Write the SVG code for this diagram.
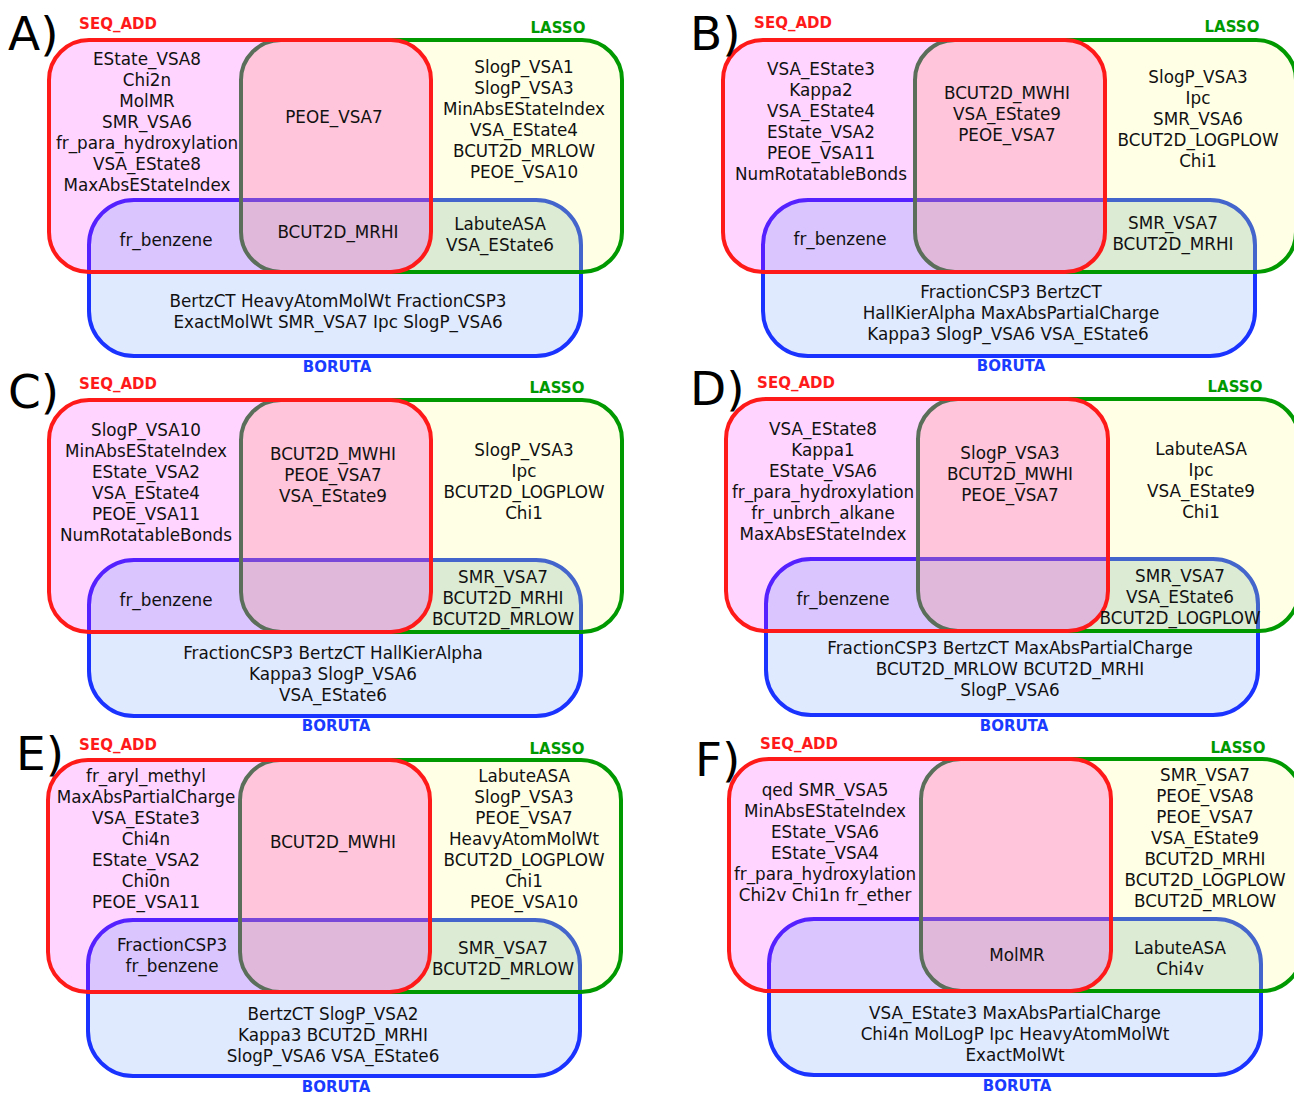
<svg xmlns="http://www.w3.org/2000/svg" xmlns:xlink="http://www.w3.org/1999/xlink" width="1294" height="1094" viewBox="0 0 1294 1094">
<style>
.t{font-family:"DejaVu Sans",sans-serif;font-size:16.8px;fill:#111;text-anchor:middle}
.lb{font-family:"DejaVu Sans",sans-serif;font-size:15px;font-weight:bold;text-anchor:middle}
.sq{fill:#ff1a1a}.ls{fill:#009900}.bo{fill:#1a3cff}
.pl{font-family:"DejaVu Sans",sans-serif;font-size:47px;fill:#000}
.s{fill:none;stroke-width:4}
</style>
<defs>
<rect id="rR" x="49" y="40" width="382" height="232" rx="40"/>
<rect id="rG" x="241" y="40" width="381" height="232" rx="40"/>
<rect id="rB" x="89" y="200" width="492" height="156" rx="45"/>
<clipPath id="cR"><use xlink:href="#rR"/></clipPath>
<clipPath id="cG"><use xlink:href="#rG"/></clipPath>
<clipPath id="cB"><use xlink:href="#rB"/></clipPath>
<g id="venn">
<use xlink:href="#rB" fill="#e0eaff"/>
<use xlink:href="#rB" class="s" stroke="#1a33ff"/>
<use xlink:href="#rG" fill="#ffffe5"/>
<use xlink:href="#rG" fill="#dcebd4" clip-path="url(#cB)"/>
<use xlink:href="#rB" class="s" stroke="#4466cc" clip-path="url(#cG)"/>
<use xlink:href="#rG" class="s" stroke="#009900"/>
<use xlink:href="#rR" fill="#ffd5ff"/>
<use xlink:href="#rR" fill="#ffc5da" clip-path="url(#cG)"/>
<use xlink:href="#rR" fill="#dac5ff" clip-path="url(#cB)"/>
<g clip-path="url(#cG)"><use xlink:href="#rR" fill="#e0b8da" clip-path="url(#cB)"/></g>
<use xlink:href="#rB" class="s" stroke="#5522ff" clip-path="url(#cR)"/>
<g clip-path="url(#cG)"><use xlink:href="#rB" class="s" stroke="#7a48d8" clip-path="url(#cR)"/></g>
<use xlink:href="#rG" class="s" stroke="#5a6e5a" clip-path="url(#cR)"/>
<use xlink:href="#rR" class="s" stroke="#ff1a1a"/>
</g>
</defs>

<g id="panel-A">
<use xlink:href="#venn"/>
<text class="pl" x="8" y="50">A)</text>
<g id="A-seq_add"><text class="lb sq" x="118" y="29">SEQ_ADD</text>
<text class="t" x="147" y="65"><tspan x="147">EState_VSA8</tspan><tspan x="147" dy="21">Chi2n</tspan><tspan x="147" dy="21">MolMR</tspan><tspan x="147" dy="21">SMR_VSA6</tspan><tspan x="147" dy="21">fr_para_hydroxylation</tspan><tspan x="147" dy="21">VSA_EState8</tspan><tspan x="147" dy="21">MaxAbsEStateIndex</tspan></text></g>
<g id="A-lasso"><text class="lb ls" x="558" y="33">LASSO</text>
<text class="t" x="524" y="73"><tspan x="524">SlogP_VSA1</tspan><tspan x="524" dy="21">SlogP_VSA3</tspan><tspan x="524" dy="21">MinAbsEStateIndex</tspan><tspan x="524" dy="21">VSA_EState4</tspan><tspan x="524" dy="21">BCUT2D_MRLOW</tspan><tspan x="524" dy="21">PEOE_VSA10</tspan></text></g>
<g id="A-boruta"><text class="lb bo" x="337" y="372">BORUTA</text>
<text class="t" x="338" y="307"><tspan x="338">BertzCT HeavyAtomMolWt FractionCSP3</tspan><tspan x="338" dy="21">ExactMolWt SMR_VSA7 Ipc SlogP_VSA6</tspan></text></g>
<g id="A-overlaps">
<text class="t" x="334" y="123">PEOE_VSA7</text>
<text class="t" x="166" y="246">fr_benzene</text>
<text class="t" x="338" y="238">BCUT2D_MRHI</text>
<text class="t" x="500" y="230"><tspan x="500">LabuteASA</tspan><tspan x="500" dy="21">VSA_EState6</tspan></text></g>
</g>

<g id="panel-B">
<use xlink:href="#venn" transform="translate(674,0)"/>
<text class="pl" x="690" y="50">B)</text>
<g id="B-seq_add"><text class="lb sq" x="793" y="28">SEQ_ADD</text>
<text class="t" x="821" y="75"><tspan x="821">VSA_EState3</tspan><tspan x="821" dy="21">Kappa2</tspan><tspan x="821" dy="21">VSA_EState4</tspan><tspan x="821" dy="21">EState_VSA2</tspan><tspan x="821" dy="21">PEOE_VSA11</tspan><tspan x="821" dy="21">NumRotatableBonds</tspan></text></g>
<g id="B-lasso"><text class="lb ls" x="1232" y="32">LASSO</text>
<text class="t" x="1198" y="83"><tspan x="1198">SlogP_VSA3</tspan><tspan x="1198" dy="21">Ipc</tspan><tspan x="1198" dy="21">SMR_VSA6</tspan><tspan x="1198" dy="21">BCUT2D_LOGPLOW</tspan><tspan x="1198" dy="21">Chi1</tspan></text></g>
<g id="B-boruta"><text class="lb bo" x="1011" y="371">BORUTA</text>
<text class="t" x="1011" y="298"><tspan x="1011">FractionCSP3 BertzCT</tspan><tspan x="1011" dy="21">HallKierAlpha MaxAbsPartialCharge</tspan><tspan x="1008" dy="21">Kappa3 SlogP_VSA6 VSA_EState6</tspan></text></g>
<g id="B-overlaps">
<text class="t" x="1007" y="99"><tspan x="1007">BCUT2D_MWHI</tspan><tspan x="1007" dy="21">VSA_EState9</tspan><tspan x="1007" dy="21">PEOE_VSA7</tspan></text>
<text class="t" x="840" y="245">fr_benzene</text>
<text class="t" x="1173" y="229"><tspan x="1173">SMR_VSA7</tspan><tspan x="1173" dy="21">BCUT2D_MRHI</tspan></text></g>
</g>

<g id="panel-C">
<use xlink:href="#venn" transform="translate(0,360)"/>
<text class="pl" x="8" y="408">C)</text>
<g id="C-seq_add"><text class="lb sq" x="118" y="389">SEQ_ADD</text>
<text class="t" x="146" y="436"><tspan x="146">SlogP_VSA10</tspan><tspan x="146" dy="21">MinAbsEStateIndex</tspan><tspan x="146" dy="21">EState_VSA2</tspan><tspan x="146" dy="21">VSA_EState4</tspan><tspan x="146" dy="21">PEOE_VSA11</tspan><tspan x="146" dy="21">NumRotatableBonds</tspan></text></g>
<g id="C-lasso"><text class="lb ls" x="557" y="393">LASSO</text>
<text class="t" x="524" y="456"><tspan x="524">SlogP_VSA3</tspan><tspan x="524" dy="21">Ipc</tspan><tspan x="524" dy="21">BCUT2D_LOGPLOW</tspan><tspan x="524" dy="21">Chi1</tspan></text></g>
<g id="C-boruta"><text class="lb bo" x="336" y="731">BORUTA</text>
<text class="t" x="333" y="659"><tspan x="333">FractionCSP3 BertzCT HallKierAlpha</tspan><tspan x="333" dy="21">Kappa3 SlogP_VSA6</tspan><tspan x="333" dy="21">VSA_EState6</tspan></text></g>
<g id="C-overlaps">
<text class="t" x="333" y="460"><tspan x="333">BCUT2D_MWHI</tspan><tspan x="333" dy="21">PEOE_VSA7</tspan><tspan x="333" dy="21">VSA_EState9</tspan></text>
<text class="t" x="166" y="606">fr_benzene</text>
<text class="t" x="503" y="583"><tspan x="503">SMR_VSA7</tspan><tspan x="503" dy="21">BCUT2D_MRHI</tspan><tspan x="503" dy="21">BCUT2D_MRLOW</tspan></text></g>
</g>

<g id="panel-D">
<use xlink:href="#venn" transform="translate(677,359)"/>
<text class="pl" x="690" y="405">D)</text>
<g id="D-seq_add"><text class="lb sq" x="796" y="388">SEQ_ADD</text>
<text class="t" x="823" y="435"><tspan x="823">VSA_EState8</tspan><tspan x="823" dy="21">Kappa1</tspan><tspan x="823" dy="21">EState_VSA6</tspan><tspan x="823" dy="21">fr_para_hydroxylation</tspan><tspan x="823" dy="21">fr_unbrch_alkane</tspan><tspan x="823" dy="21">MaxAbsEStateIndex</tspan></text></g>
<g id="D-lasso"><text class="lb ls" x="1235" y="392">LASSO</text>
<text class="t" x="1201" y="455"><tspan x="1201">LabuteASA</tspan><tspan x="1201" dy="21">Ipc</tspan><tspan x="1201" dy="21">VSA_EState9</tspan><tspan x="1201" dy="21">Chi1</tspan></text></g>
<g id="D-boruta"><text class="lb bo" x="1014" y="731">BORUTA</text>
<text class="t" x="1010" y="654"><tspan x="1010">FractionCSP3 BertzCT MaxAbsPartialCharge</tspan><tspan x="1010" dy="21">BCUT2D_MRLOW BCUT2D_MRHI</tspan><tspan x="1010" dy="21">SlogP_VSA6</tspan></text></g>
<g id="D-overlaps">
<text class="t" x="1010" y="459"><tspan x="1010">SlogP_VSA3</tspan><tspan x="1010" dy="21">BCUT2D_MWHI</tspan><tspan x="1010" dy="21">PEOE_VSA7</tspan></text>
<text class="t" x="843" y="605">fr_benzene</text>
<text class="t" x="1180" y="582"><tspan x="1180">SMR_VSA7</tspan><tspan x="1180" dy="21">VSA_EState6</tspan><tspan x="1180" dy="21">BCUT2D_LOGPLOW</tspan></text></g>
</g>

<g id="panel-E">
<use xlink:href="#venn" transform="translate(-1,720)"/>
<text class="pl" x="16" y="770">E)</text>
<g id="E-seq_add"><text class="lb sq" x="118" y="750">SEQ_ADD</text>
<text class="t" x="146" y="782"><tspan x="146">fr_aryl_methyl</tspan><tspan x="146" dy="21">MaxAbsPartialCharge</tspan><tspan x="146" dy="21">VSA_EState3</tspan><tspan x="146" dy="21">Chi4n</tspan><tspan x="146" dy="21">EState_VSA2</tspan><tspan x="146" dy="21">Chi0n</tspan><tspan x="146" dy="21">PEOE_VSA11</tspan></text></g>
<g id="E-lasso"><text class="lb ls" x="557" y="754">LASSO</text>
<text class="t" x="524" y="782"><tspan x="524">LabuteASA</tspan><tspan x="524" dy="21">SlogP_VSA3</tspan><tspan x="524" dy="21">PEOE_VSA7</tspan><tspan x="524" dy="21">HeavyAtomMolWt</tspan><tspan x="524" dy="21">BCUT2D_LOGPLOW</tspan><tspan x="524" dy="21">Chi1</tspan><tspan x="524" dy="21">PEOE_VSA10</tspan></text></g>
<g id="E-boruta"><text class="lb bo" x="336" y="1092">BORUTA</text>
<text class="t" x="333" y="1020"><tspan x="333">BertzCT SlogP_VSA2</tspan><tspan x="333" dy="21">Kappa3 BCUT2D_MRHI</tspan><tspan x="333" dy="21">SlogP_VSA6 VSA_EState6</tspan></text></g>
<g id="E-overlaps">
<text class="t" x="333" y="848">BCUT2D_MWHI</text>
<text class="t" x="172" y="951"><tspan x="172">FractionCSP3</tspan><tspan x="172" dy="21">fr_benzene</tspan></text>
<text class="t" x="503" y="954"><tspan x="503">SMR_VSA7</tspan><tspan x="503" dy="21">BCUT2D_MRLOW</tspan></text></g>
</g>

<g id="panel-F">
<use xlink:href="#venn" transform="translate(680,719)"/>
<text class="pl" x="695" y="776">F)</text>
<g id="F-seq_add"><text class="lb sq" x="799" y="749">SEQ_ADD</text>
<text class="t" x="825" y="796"><tspan x="825">qed SMR_VSA5</tspan><tspan x="825" dy="21">MinAbsEStateIndex</tspan><tspan x="825" dy="21">EState_VSA6</tspan><tspan x="825" dy="21">EState_VSA4</tspan><tspan x="825" dy="21">fr_para_hydroxylation</tspan><tspan x="825" dy="21">Chi2v Chi1n fr_ether</tspan></text></g>
<g id="F-lasso"><text class="lb ls" x="1238" y="753">LASSO</text>
<text class="t" x="1205" y="781"><tspan x="1205">SMR_VSA7</tspan><tspan x="1205" dy="21">PEOE_VSA8</tspan><tspan x="1205" dy="21">PEOE_VSA7</tspan><tspan x="1205" dy="21">VSA_EState9</tspan><tspan x="1205" dy="21">BCUT2D_MRHI</tspan><tspan x="1205" dy="21">BCUT2D_LOGPLOW</tspan><tspan x="1205" dy="21">BCUT2D_MRLOW</tspan></text></g>
<g id="F-boruta"><text class="lb bo" x="1017" y="1091">BORUTA</text>
<text class="t" x="1015" y="1019"><tspan x="1015">VSA_EState3 MaxAbsPartialCharge</tspan><tspan x="1015" dy="21">Chi4n MolLogP Ipc HeavyAtomMolWt</tspan><tspan x="1015" dy="21">ExactMolWt</tspan></text></g>
<g id="F-overlaps">
<text class="t" x="1017" y="961">MolMR</text>
<text class="t" x="1180" y="954"><tspan x="1180">LabuteASA</tspan><tspan x="1180" dy="21">Chi4v</tspan></text></g>
</g>
</svg>
